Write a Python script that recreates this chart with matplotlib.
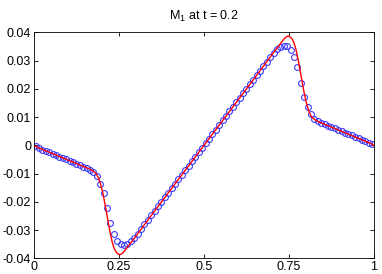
import numpy as np
import matplotlib
matplotlib.use("Agg")
import matplotlib.pyplot as plt

plt.rcParams['font.family'] = ['Liberation Sans', 'DejaVu Sans']
plt.rcParams['mathtext.default'] = 'regular'

# numerical solution (circles), cell centres
x_num = np.linspace(0.005, 0.995, 100)
m_num = [-0.0004, -0.0010, -0.0015, -0.0020, -0.0025, -0.0030, -0.0035, -0.0040, -0.0045, -0.0050,
         -0.0055, -0.0060, -0.0065, -0.0070, -0.0075, -0.0080, -0.0086, -0.0094, -0.0110, -0.0135,
         -0.0170, -0.0221, -0.0276, -0.0312, -0.0338, -0.0350, -0.0351, -0.0348, -0.0340, -0.0327,
         -0.0312, -0.0296, -0.0280, -0.0264, -0.0248, -0.0232, -0.0216, -0.0200, -0.0184, -0.0168,
         -0.0152, -0.0136, -0.0120, -0.0104, -0.0088, -0.0072, -0.0056, -0.0040, -0.0024, -0.0008,
         0.0008, 0.0024, 0.0040, 0.0056, 0.0072, 0.0088, 0.0104, 0.0120, 0.0136, 0.0152,
         0.0168, 0.0184, 0.0200, 0.0216, 0.0232, 0.0248, 0.0264, 0.0280, 0.0296, 0.0312,
         0.0327, 0.0340, 0.0348, 0.0351, 0.0350, 0.0338, 0.0312, 0.0276, 0.0221, 0.0170,
         0.0135, 0.0110, 0.0094, 0.0086, 0.0080, 0.0075, 0.0070, 0.0065, 0.0060, 0.0055,
         0.0050, 0.0045, 0.0040, 0.0035, 0.0030, 0.0025, 0.0020, 0.0015, 0.0010, 0.0004]

# reference solution (red line)
x_ref = [0, 0.01, 0.02, 0.05, 0.10, 0.15, 0.16, 0.17, 0.175, 0.18, 0.185, 0.19, 0.195, 0.20,
         0.205, 0.21, 0.215, 0.22, 0.225, 0.23, 0.235, 0.24, 0.245, 0.25, 0.255, 0.26, 0.265,
         0.27, 0.275, 0.28, 0.29, 0.30, 0.35, 0.40, 0.45, 0.50,
         0.55, 0.60, 0.65, 0.70, 0.71, 0.72, 0.725, 0.73, 0.735, 0.74, 0.745, 0.75, 0.755,
         0.76, 0.765, 0.77, 0.775, 0.78, 0.785, 0.79, 0.795, 0.80, 0.805, 0.81, 0.815, 0.82,
         0.825, 0.83, 0.84, 0.85, 0.90, 0.95, 0.98, 0.99, 1.0]
m_ref = [0, -0.0007, -0.0012, -0.0027, -0.0052, -0.0077, -0.0082, -0.0088, -0.0092, -0.0097,
         -0.0104, -0.0116, -0.0134, -0.0156, -0.0184, -0.0216, -0.0250, -0.0283, -0.0315, -0.0342,
         -0.0362, -0.0375, -0.0382, -0.0386, -0.0386, -0.0382, -0.0376, -0.0368, -0.0360, -0.0352,
         -0.0337, -0.0321, -0.0240, -0.0160, -0.0080, 0.0,
         0.0080, 0.0160, 0.0240, 0.0321, 0.0337, 0.0352, 0.0360, 0.0368, 0.0376, 0.0382, 0.0386,
         0.0386, 0.0382, 0.0375, 0.0362, 0.0342, 0.0315, 0.0283, 0.0250, 0.0216, 0.0184, 0.0156,
         0.0134, 0.0116, 0.0104, 0.0097, 0.0092, 0.0088, 0.0082, 0.0077, 0.0052, 0.0027, 0.0012,
         0.0007, 0]

xticks = [0, 0.25, 0.5, 0.75, 1]
xticklabels = ['0', '0.25', '0.5', '0.75', '1']
yticks = [-0.04, -0.03, -0.02, -0.01, 0, 0.01, 0.02, 0.03, 0.04]
yticklabels = ['-0.04', '-0.03', '-0.02', '-0.01', '0', '0.01', '0.02', '0.03', '0.04']

fig = plt.figure(figsize=(3.82, 2.74), dpi=100)
ax = fig.add_axes([0.089, 0.057, 0.890, 0.825])

ax.plot(x_num, m_num, 'o', ms=4.2, mfc='none', mec='#3a3aff', mew=0.8)
ax.plot(x_ref, m_ref, '-', color='red', lw=1.0)

ax.set_xlim(0, 1)
ax.set_ylim(-0.04, 0.04)
ax.set_xticks(xticks)
ax.set_xticklabels(xticklabels)
ax.set_yticks(yticks)
ax.set_yticklabels(yticklabels)
ax.tick_params(direction='in', length=3, width=0.6, labelsize=9, top=True, right=True, pad=2)
for s in ax.spines.values():
    s.set_linewidth(0.6)

ax.set_title('M$_1$ at t = 0.2', fontsize=9, pad=9)

fig.savefig('out.png', dpi=100)
